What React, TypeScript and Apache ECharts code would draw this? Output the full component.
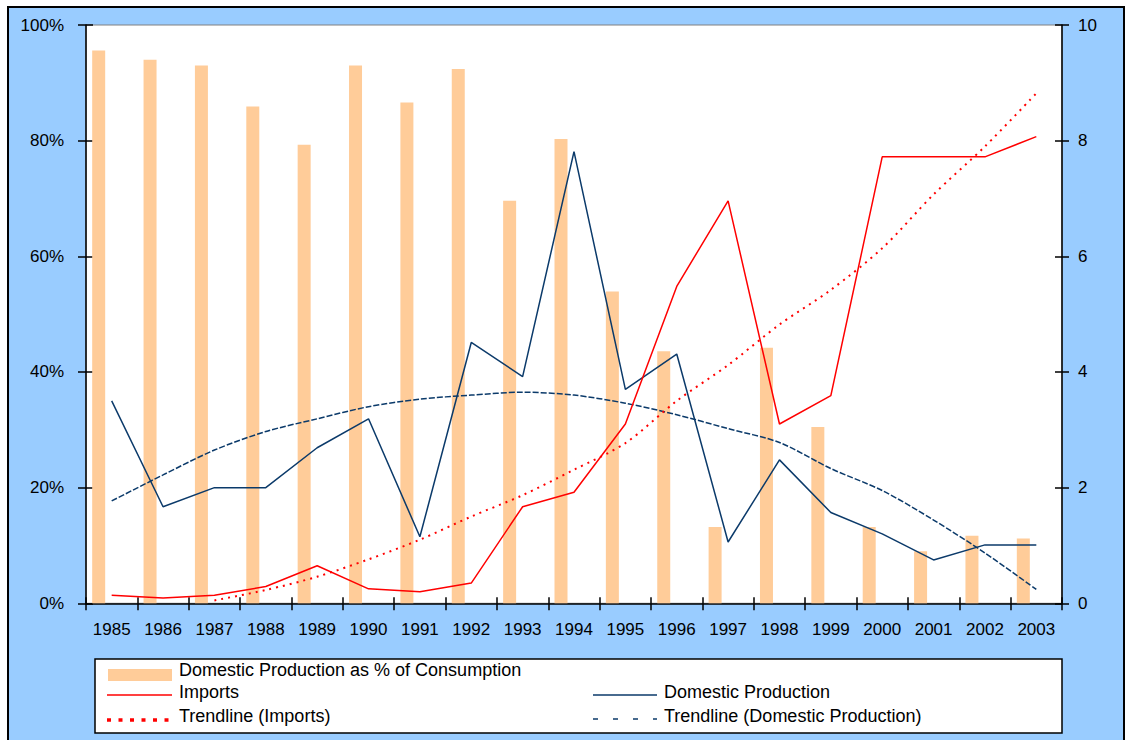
import React, { useEffect, useRef } from "react";
import * as echarts from "echarts";

const years = ["1985","1986","1987","1988","1989","1990","1991","1992","1993","1994","1995","1996","1997","1998","1999","2000","2001","2002","2003"];
const pctOfConsumption = [95.6, 94.0, 93.0, 85.9, 79.3, 93.0, 86.6, 92.4, 69.6, 80.3, 53.9, 43.6, 13.2, 44.2, 30.5, 13.2, 9.0, 11.7, 11.2];
const imports = [0.14, 0.09, 0.14, 0.29, 0.65, 0.25, 0.2, 0.35, 1.67, 1.92, 3.1, 5.48, 6.96, 3.1, 3.59, 7.72, 7.72, 7.72, 8.07];
const domestic = [3.5, 1.67, 2.0, 2.0, 2.69, 3.19, 1.15, 4.51, 3.92, 7.81, 3.7, 4.31, 1.06, 2.48, 1.57, 1.2, 0.75, 1.01, 1.01];
const trendImports = [null, null, 0.05, 0.23, 0.46, 0.76, 1.1, 1.5, 1.87, 2.31, 2.77, 3.5, 4.12, 4.82, 5.42, 6.14, 7.07, 7.9, 8.82];
const trendDomestic = [1.77, 2.22, 2.65, 2.97, 3.19, 3.4, 3.53, 3.6, 3.65, 3.6, 3.46, 3.26, 3.02, 2.78, 2.33, 1.95, 1.44, 0.87, 0.24];
const dummyBars = years.map(() => null);
const leftTicks = { min: 0, max: 100, interval: 20 };
const rightTicks = { min: 0, max: 10, interval: 2 };

const FONT = "'Liberation Sans', Arial, sans-serif";
const NAVY = "#0B3A6A";
const RED = "#FF0000";

export default function App() {
  const ref = useRef<HTMLDivElement>(null);
  useEffect(() => {
    if (!ref.current) return;
    const chart = echarts.init(ref.current, undefined, { renderer: "svg" });
    const ox = 9, oy = 8;
    const legendText = (x: number, y: number, t: string) => ({
      type: "text", x: x - ox, y: y - oy,
      style: { text: t, fill: "#000", font: `18px ${FONT}`, textVerticalAlign: "middle" },
      z: 100,
    });
    const option: any = {
      animation: false,
      textStyle: { fontFamily: FONT },
      grid: {
        left: 86 - ox, top: 25 - oy, width: 1062 - 86, height: 603.3 - 25,
        show: true, backgroundColor: "#FFFFFF", borderColor: "#808080", borderWidth: 1,
      },
      xAxis: [
        {
          type: "category", data: years, position: "bottom", boundaryGap: true,
          axisLine: { show: true, lineStyle: { color: "#000", width: 1.5 } },
          axisTick: { show: true, inside: false, length: 7, interval: 0, alignWithLabel: false, lineStyle: { color: "#000", width: 1.5 } },
          axisLabel: { interval: 0, color: "#000", fontSize: 17, margin: 18, fontFamily: FONT },
          splitLine: { show: false },
        },
        {
          type: "category", data: years, position: "bottom", boundaryGap: true,
          axisLine: { show: false },
          axisTick: { show: true, inside: true, length: 6, interval: 0, lineStyle: { color: "#000", width: 1.5 } },
          axisLabel: { show: false },
          splitLine: { show: false },
        },
      ],
      yAxis: [
        {
          type: "value", position: "left", ...leftTicks,
          axisLine: { show: true, lineStyle: { color: "#000", width: 1.5 } },
          axisTick: { show: true, inside: false, length: 8, lineStyle: { color: "#000", width: 1.5 } },
          axisLabel: { color: "#000", fontSize: 17, margin: 22, formatter: "{value}%", fontFamily: FONT },
          splitLine: { show: false },
        },
        {
          type: "value", position: "right", ...rightTicks,
          axisLine: { show: true, lineStyle: { color: "#000", width: 1.5 } },
          axisTick: { show: true, inside: false, length: 7, lineStyle: { color: "#000", width: 1.5 } },
          axisLabel: { color: "#000", fontSize: 17, margin: 16, fontFamily: FONT },
          splitLine: { show: false },
        },
        {
          type: "value", position: "left", ...leftTicks,
          axisLine: { show: false },
          axisTick: { show: true, inside: true, length: 7, lineStyle: { color: "#000", width: 1.5 } },
          axisLabel: { show: false },
          splitLine: { show: false },
        },
        {
          type: "value", position: "right", ...rightTicks,
          axisLine: { show: false },
          axisTick: { show: true, inside: true, length: 7, lineStyle: { color: "#000", width: 1.5 } },
          axisLabel: { show: false },
          splitLine: { show: false },
        },
      ],
      series: [
        {
          name: "Domestic Production as % of Consumption", type: "bar", data: pctOfConsumption,
          xAxisIndex: 0, yAxisIndex: 0, barWidth: 13, barGap: "100%",
          itemStyle: { color: "#FFCC99" }, z: 1,
        },
        {
          name: "spacer", type: "bar", data: dummyBars, xAxisIndex: 0, yAxisIndex: 0,
          barWidth: 13, barGap: "100%", itemStyle: { color: "transparent" }, z: 1,
        },
        {
          name: "Trendline (Domestic Production)", type: "line", data: trendDomestic,
          xAxisIndex: 0, yAxisIndex: 1, symbol: "none", smooth: 0.3,
          lineStyle: { color: NAVY, width: 1.5, type: [6, 2] }, z: 3,
        },
        {
          name: "Trendline (Imports)", type: "line", data: trendImports,
          xAxisIndex: 0, yAxisIndex: 1, symbol: "none", smooth: 0.3,
          lineStyle: { color: RED, width: 2, type: [2, 5] }, z: 3,
        },
        {
          name: "Domestic Production", type: "line", data: domestic,
          xAxisIndex: 0, yAxisIndex: 1, symbol: "none",
          lineStyle: { color: NAVY, width: 1.5 }, z: 4,
        },
        {
          name: "Imports", type: "line", data: imports,
          xAxisIndex: 0, yAxisIndex: 1, symbol: "none",
          lineStyle: { color: RED, width: 1.5 }, z: 4,
        },
      ],
      graphic: [
        {
          type: "rect", shape: { x: 95 - ox, y: 659 - oy, width: 1062 - 95, height: 733 - 659 },
          style: { fill: "#FFFFFF", stroke: "#000", lineWidth: 1.5 }, z: 90,
        },
        { type: "rect", shape: { x: 108 - ox, y: 669 - oy, width: 64, height: 12 }, style: { fill: "#FFCC99" }, z: 100 },
        legendText(179, 670, "Domestic Production as % of Consumption"),
        { type: "line", shape: { x1: 107 - ox, y1: 695 - oy, x2: 172 - ox, y2: 695 - oy }, style: { stroke: RED, lineWidth: 1.5 }, z: 100 },
        legendText(179, 692, "Imports"),
        { type: "line", shape: { x1: 107 - ox, y1: 720 - oy, x2: 172 - ox, y2: 720 - oy }, style: { stroke: RED, lineWidth: 3.5, lineDash: [4, 7.5] }, z: 100 },
        legendText(179, 716, "Trendline (Imports)"),
        { type: "line", shape: { x1: 593 - ox, y1: 695 - oy, x2: 657 - ox, y2: 695 - oy }, style: { stroke: NAVY, lineWidth: 1.5 }, z: 100 },
        legendText(664, 692, "Domestic Production"),
        { type: "line", shape: { x1: 593 - ox, y1: 719 - oy, x2: 657 - ox, y2: 719 - oy }, style: { stroke: NAVY, lineWidth: 1.5, lineDash: [5, 15] }, z: 100 },
        legendText(664, 716, "Trendline (Domestic Production)"),
      ],
    };
    chart.setOption(option);
    return () => chart.dispose();
  }, []);
  return (
    <div
      style={{
        position: "absolute", left: 7, top: 6, width: 1118, height: 740,
        boxSizing: "border-box", border: "2px solid #000", background: "#99CCFF",
      }}
    >
      <div ref={ref} style={{ width: 1114, height: 736 }} />
    </div>
  );
}
